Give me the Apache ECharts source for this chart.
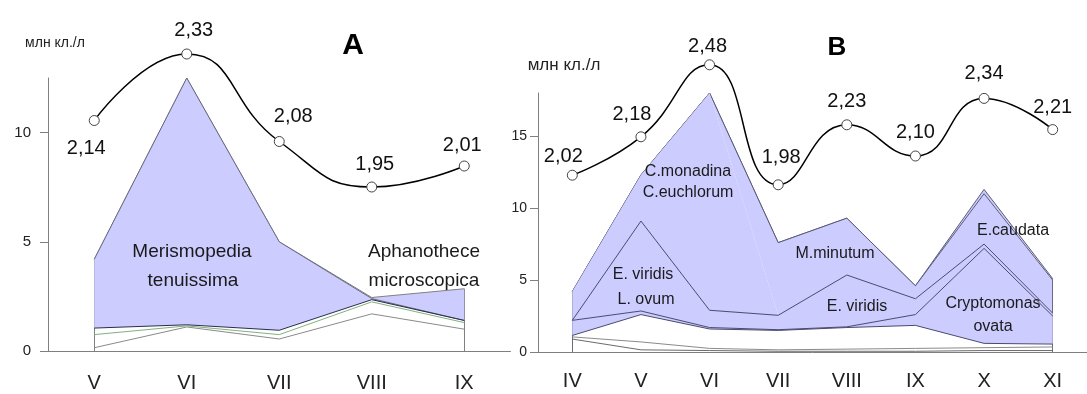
<!DOCTYPE html>
<html>
<head>
<meta charset="utf-8">
<script src="https://cdn.jsdelivr.net/npm/echarts@6/dist/echarts.min.js"></script>
<style>
html,body{margin:0;padding:0;background:#fff;}
#chart{width:1087px;height:394px;}
</style>
</head>
<body>
<div id="chart"></div>
<script>
// ---------- DATA ----------
const catsA = ['V', 'VI', 'VII', 'VIII', 'IX'];
const ticksA = [0, 5, 10];
const aLayer1 = [0.15, 1.1, 0.55, 1.7, 1.0];
const aLayer2 = [0.6, 0.05, 0.2, 0.55, 0.3];
const aLayer3 = [0.3, 0.05, 0.2, 0.1, 0.1];
const aMerismopedia = [3.15, 11.3, 4.05, 0.05, 0];
const aAphanothece = [0, 0, 0, 0.05, 1.45];
const aIndex = [2.14, 2.33, 2.08, 1.95, 2.01];

const catsB = ['IV', 'V', 'VI', 'VII', 'VIII', 'IX', 'X', 'XI'];
const ticksB = [0, 5, 10, 15];
const bLayer1 = [0.9, 0.15, 0.1, 0.05, 0.05, 0.05, 0.1, 0.1];
const bLayer2 = [0.15, 0.55, 0.15, 0.1, 0.15, 0.2, 0.2, 0.25];
const bLayer3 = [0.1, 1.9, 1.35, 1.35, 1.5, 1.6, 0.3, 0.2];
const bCryptomonas = [1.05, 0.25, 0.1, 0.05, 0.05, 0.75, 6.6, 1.95];
const bEuglena = [0, 6.25, 1.2, 1.0, 3.6, 1.1, 0.3, 0.2];
const bChlamydomonas = [2.0, 3.2, 15.1, 0, 0, 0, 0, 0];
const bMinutum = [0, 0, 0, 5.05, 3.95, 0.9, 3.5, 2.3];
const bCaudata = [0, 0, 0, 0, 0, 0, 0.3, 0.1];
const bIndex = [2.02, 2.18, 2.48, 1.98, 2.23, 2.10, 2.34, 2.21];

// ---------- STYLE / BUILD ----------
const FONT = "'Liberation Sans', Arial, sans-serif";
const NARROW = "'Liberation Sans Narrow', 'Liberation Sans', Arial, sans-serif";
const PURPLE = '#ccccff';
const AXIS = '#7f7f7f';

function sums(layers) {
  return layers[0].map((_, i) => layers.reduce((s, l) => s + l[i], 0));
}
const layersA = [aLayer1, aLayer2, aLayer3, aMerismopedia, aAphanothece];
const layersB = [bLayer1, bLayer2, bLayer3, bCryptomonas, bEuglena, bChlamydomonas, bMinutum, bCaudata];
const totA = sums(layersA);
const totB = sums(layersB);
const maxA = Math.max(...totA);
const maxB = Math.max(...totB);

function areaSeries(name, data, gi, stack, z, opt) {
  return Object.assign({
    name: name, type: 'line', stack: stack, data: data,
    xAxisIndex: gi, yAxisIndex: gi,
    symbol: 'none', showSymbol: false, z: z,
    lineStyle: { width: 1, color: opt.line },
    areaStyle: opt.fill ? { color: opt.fill, opacity: 1 } : { opacity: 0 },
    emphasis: { disabled: true }
  }, opt.extra || {});
}

function edges(tot, color) {
  const n = tot.length - 1;
  return {
    silent: true, symbol: 'none', label: { show: false },
    lineStyle: { color: color, width: 1, type: 'solid' },
    data: [
      [{ coord: [0, 0] }, { coord: [0, tot[0]] }],
      [{ coord: [n, 0] }, { coord: [n, tot[n]] }]
    ]
  };
}

const labPosA = [
  { position: 'bottom', distance: 12, offset: [-8, 0] },
  { position: 'top', distance: 8, offset: [7, 0] },
  { position: 'top', distance: 10, offset: [14, 0] },
  { position: 'top', distance: 7, offset: [3, 0] },
  { position: 'top', distance: 5, offset: [-2, 0] }
];
const labPosB = [
  { position: 'top', distance: 3, offset: [-9, 0] },
  { position: 'top', distance: 7, offset: [-9, 0] },
  { position: 'top', distance: 3, offset: [-2, 0] },
  { position: 'top', distance: 12, offset: [3, 0] },
  { position: 'top', distance: 8, offset: [0, 0] },
  { position: 'top', distance: 8, offset: [0, 0] },
  { position: 'top', distance: 9, offset: [0, 0] },
  { position: 'top', distance: 7, offset: [0, 0] }
];

function indexSeries(data, gi, pos) {
  return {
    type: 'line', xAxisIndex: gi, yAxisIndex: gi, z: 20,
    smooth: 0.5, symbol: 'circle', symbolSize: 10,
    itemStyle: { color: '#ffffff', borderColor: '#444', borderWidth: 1 },
    lineStyle: { color: '#000', width: 1.5 },
    emphasis: { disabled: true },
    data: data.map((v, i) => ({
      value: v,
      label: Object.assign({
        show: true, fontSize: 20, fontFamily: FONT, color: '#111',
        formatter: (p) => p.value.toFixed(2).replace('.', ',')
      }, pos[i])
    }))
  };
}

function catAxis(cats, gi, show, margin) {
  return {
    type: 'category', data: cats, gridIndex: gi, boundaryGap: true, show: show,
    axisLine: { lineStyle: { color: AXIS, width: 1 } },
    axisTick: { length: 6, lineStyle: { color: AXIS } },
    axisLabel: { fontSize: 20, fontFamily: NARROW, color: '#222', margin: margin }
  };
}
function valAxis(gi, max, ticks, margin, fs) {
  return {
    type: 'value', gridIndex: gi, min: 0, max: max, interval: 5,
    axisLine: { show: true, lineStyle: { color: AXIS, width: 1 } },
    axisTick: { show: true, length: 8, lineStyle: { color: AXIS }, customValues: ticks },
    axisLabel: { fontSize: fs, fontFamily: FONT, color: '#222', margin: margin, customValues: ticks },
    splitLine: { show: false }
  };
}
function hiddenVal(gi, min, max) {
  return { type: 'value', gridIndex: gi, min: min, max: max, show: false, splitLine: { show: false } };
}

const series = [
  // Panel A stacked areas
  areaSeries('A1', aLayer1, 0, 'A', 9, { line: '#8a8a8a' }),
  areaSeries('A2', aLayer2, 0, 'A', 9, { line: '#7fb27f' }),
  areaSeries('A3', aLayer3, 0, 'A', 9, { line: '#2c2c4a' }),
  areaSeries('Merismopedia tenuissima', aMerismopedia, 0, 'A', 6, { line: '#6a6a80', fill: PURPLE }),
  areaSeries('Aphanothece microscopica', aAphanothece, 0, 'A', 5, { line: '#808080', fill: PURPLE,
    extra: { markLine: edges(totA, '#808080') } }),
  indexSeries(aIndex, 1, labPosA),
  // Panel B stacked areas
  areaSeries('B1', bLayer1, 2, 'B', 9, { line: '#6a6a6a' }),
  areaSeries('B2', bLayer2, 2, 'B', 9, { line: '#8a8a8a' }),
  areaSeries('B3', bLayer3, 2, 'B', 9, { line: '#4a4a70' }),
  areaSeries('Cryptomonas ovata', bCryptomonas, 2, 'B', 7, { line: '#4a4a70', fill: PURPLE }),
  areaSeries('E. viridis', bEuglena, 2, 'B', 6, { line: '#4a4a70', fill: PURPLE }),
  areaSeries('C.monadina', bChlamydomonas, 2, 'B', 5, { line: PURPLE, fill: PURPLE,
    extra: { lineStyle: { width: 0, color: PURPLE } } }),
  areaSeries('M.minutum', bMinutum, 2, 'B', 4, { line: '#5a5a78', fill: PURPLE }),
  areaSeries('E.caudata', bCaudata, 2, 'B', 3, { line: '#5a5a78', fill: PURPLE,
    extra: { markLine: edges(totB, '#6a6a80') } }),
  indexSeries(bIndex, 3, labPosB)
];

function txt(text, x, y, size, weight, color) {
  return {
    type: 'text', x: x, y: y, z: 30,
    style: {
      text: text, fontSize: size, fontWeight: weight || 'normal', fontFamily: FONT,
      fill: color || '#1a1a1a', align: 'center', verticalAlign: 'middle'
    }
  };
}

const graphics = [
  txt('A', 353, 46, 30, 'bold', '#000'),
  txt('B', 837, 48, 26, 'bold', '#000'),
  txt('млн кл./л', 55, 43, 14, 'normal', '#222'),
  txt('млн кл./л', 564, 65, 17, 'normal', '#222'),
  txt('Merismopedia', 192, 252, 19),
  txt('tenuissima', 193, 281, 19),
  txt('Aphanothece', 424, 252, 19),
  txt('microscopica', 424, 281, 19),
  txt('C.monadina', 688, 172, 16),
  txt('C.euchlorum', 688, 193, 16),
  txt('E. viridis', 643, 275, 16),
  txt('L. ovum', 646, 300, 16),
  txt('M.minutum', 835, 254, 16),
  txt('E. viridis', 857, 307, 16),
  txt('E.caudata', 1013, 231, 16),
  txt('Cryptomonas', 993, 304, 16),
  txt('ovata', 993, 327, 16)
];

const option = {
  animation: false,
  backgroundColor: '#ffffff',
  grid: [
    { left: 48, top: 78, width: 462.5, height: 273 },
    { left: 48, top: 29.5, width: 462.5, height: 315 },
    { left: 538, top: 93, width: 565, height: 259 },
    { left: 538, top: 36, width: 565, height: 264 }
  ],
  xAxis: [
    catAxis(catsA, 0, true, 22),
    catAxis(catsA, 1, false, 0),
    catAxis(catsB, 2, true, 19),
    catAxis(catsB, 3, false, 0)
  ],
  yAxis: [
    valAxis(0, maxA, ticksA, 17, 15),
    hiddenVal(1, 1.5, 2.4),
    valAxis(2, maxB, ticksB, 11, 14),
    hiddenVal(3, 1.5, 2.6)
  ],
  series: series,
  graphic: graphics
};

const chart = echarts.init(document.getElementById('chart'), null, { renderer: 'canvas' });
chart.setOption(option);
</script>
</body>
</html>
